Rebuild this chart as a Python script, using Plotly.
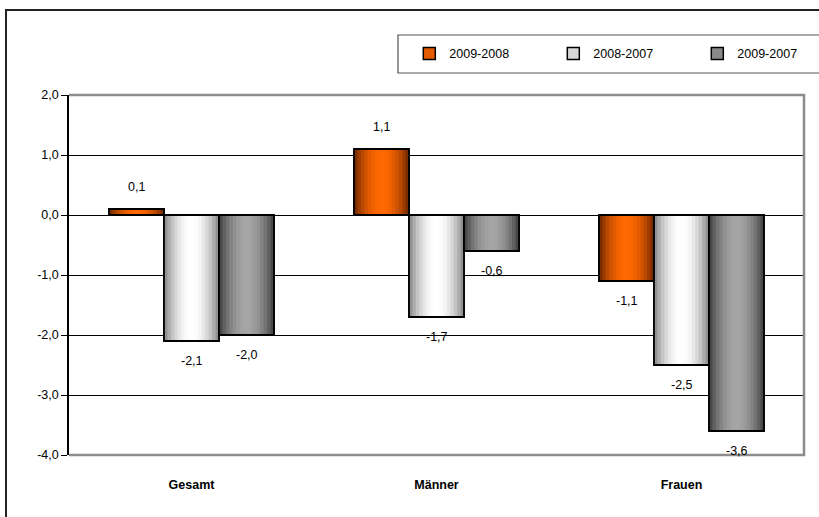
import math
import plotly.graph_objects as go

# ---- data ----
categories = ["Gesamt", "Männer", "Frauen"]
series_names = ["2009-2008", "2008-2007", "2009-2007"]
v_2009_2008 = [0.1, 1.1, -1.1]
v_2008_2007 = [-2.1, -1.7, -2.5]
v_2009_2007 = [-2.0, -0.6, -3.6]
y_tickvals = [2, 1, 0, -1, -2, -3, -4]
y_ticktext = ["2,0", "1,0", "0,0", "-1,0", "-2,0", "-3,0", "-4,0"]

series_values = [v_2009_2008, v_2008_2007, v_2009_2007]

# ---- styles ----
FONT = "Liberation Sans, Arial, sans-serif"
FS = 12.5
edge_cols = [(100, 34, 0), (125, 125, 125), (55, 55, 55)]
center_cols = [(255, 104, 0), (255, 255, 255), (165, 165, 165)]
legend_cols = ["#E55B00", "#D8D8D8", "#8A8A8A"]

bar_w = 0.2245
group_start = -1.5 * bar_w
N = 16

fig = go.Figure()


def mix(a, b, f):
    return "rgb(%d,%d,%d)" % tuple(round(a[i] + (b[i] - a[i]) * f) for i in range(3))


annotations = []
for s, (name, vals) in enumerate(zip(series_names, series_values)):
    off = group_start + s * bar_w
    # base bar (legend entry)
    fig.add_trace(go.Bar(
        x=categories, y=vals, name=name, offset=off, width=bar_w,
        marker=dict(color=legend_cols[s], line=dict(color="black", width=1.5)),
        showlegend=True, hoverinfo="skip"))
    # gradient stripes
    sw = bar_w / N
    for k in range(N):
        t = (k + 0.5) / N
        f = math.sin(math.pi * t) ** 0.8
        wk = sw * 1.4 if k < N - 1 else sw
        fig.add_trace(go.Bar(
            x=categories, y=vals, offset=off + k * sw, width=wk,
            marker=dict(color=mix(edge_cols[s], center_cols[s], f), line=dict(width=0)),
            showlegend=False, hoverinfo="skip"))
    # outline
    fig.add_trace(go.Bar(
        x=categories, y=vals, offset=off, width=bar_w,
        marker=dict(color="rgba(0,0,0,0)", line=dict(color="black", width=1.8)),
        showlegend=False, hovertemplate=name + ": %{y}<extra></extra>"))
    for i, v in enumerate(vals):
        annotations.append(dict(
            x=i + off + bar_w / 2, y=v, xref="x", yref="y",
            text=("%.1f" % v).replace(".", ","), showarrow=False,
            yshift=22 if v >= 0 else -20, yanchor="middle",
            font=dict(family=FONT, size=FS, color="black")))

shapes = [
    # outer chart border (extends beyond the picture at right/bottom)
    dict(type="rect", xref="paper", yref="paper", x0=-0.0857, x1=1.2, y0=-0.4, y1=1.2361,
         line=dict(color="#222222", width=2), fillcolor="rgba(0,0,0,0)", layer="below"),
    # legend box
    dict(type="rect", xref="paper", yref="paper", x0=0.4476, x1=1.2, y0=1.0611, y1=1.1667,
         line=dict(color="#555555", width=1.2), fillcolor="rgba(0,0,0,0)", layer="below"),
    # plot area border (top, right, bottom) in grey
    dict(type="path", xref="paper", yref="paper", path="M 0,1 L 1,1 L 1,0 L 0,0",
         line=dict(color="#8C8C8C", width=2.5), layer="above"),
]

fig.update_layout(
    width=819, height=517,
    margin=dict(l=69, r=15, t=95, b=62, autoexpand=False),
    paper_bgcolor="white", plot_bgcolor="white",
    barmode="overlay",
    font=dict(family=FONT, size=FS, color="black"),
    showlegend=True,
    legend=dict(orientation="h", x=0.463, xanchor="left", y=1.114, yanchor="middle",
                bgcolor="rgba(0,0,0,0)", borderwidth=0,
                entrywidth=99, entrywidthmode="pixels",
                font=dict(family=FONT, size=FS, color="black"), itemclick=False),
    xaxis=dict(type="category", categoryorder="array", categoryarray=categories,
               range=[-0.5, 2.5], showgrid=False, zeroline=False, showline=False,
               ticks="", ticklabelstandoff=20,
               tickfont=dict(family=FONT, size=FS, color="black", weight="bold")),
    yaxis=dict(range=[-4, 2], tickvals=y_tickvals, ticktext=y_ticktext,
               showgrid=True, gridcolor="black", gridwidth=1,
               zeroline=True, zerolinecolor="black", zerolinewidth=1,
               showline=True, linecolor="black", linewidth=1.5,
               ticks="outside", ticklen=6, tickcolor="black", tickwidth=1,
               tickfont=dict(family=FONT, size=FS, color="black")),
    shapes=shapes,
    annotations=annotations,
)

fig.write_html("out.html")
